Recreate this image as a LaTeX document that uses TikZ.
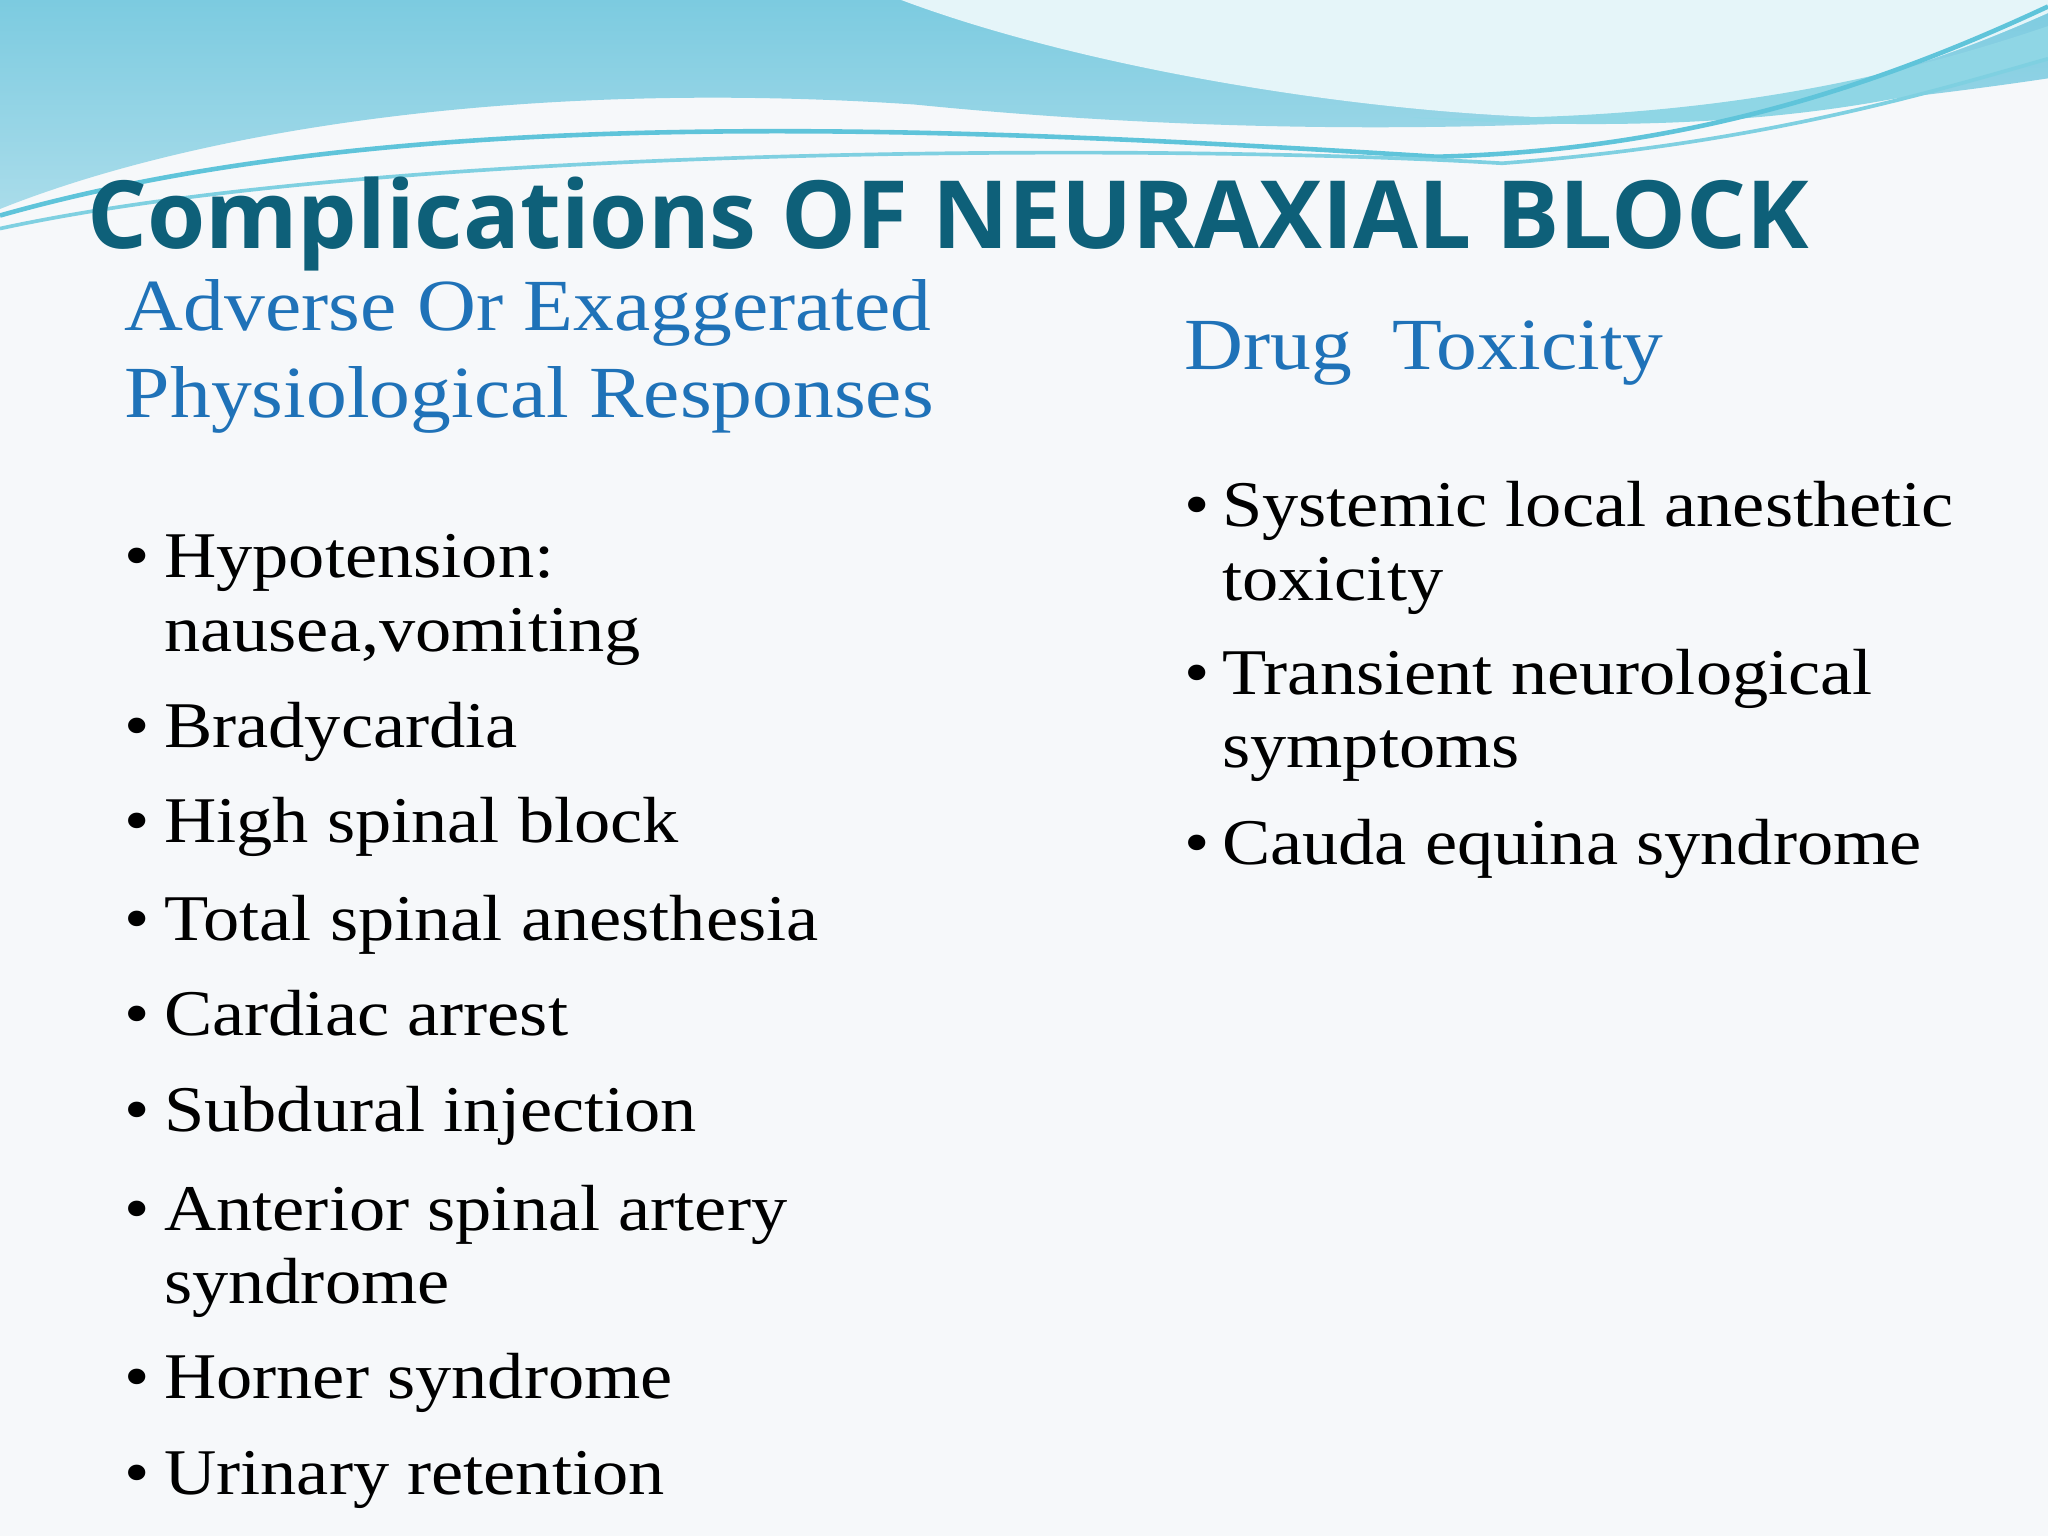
\documentclass[tikz,border=0pt]{standalone}
\usepackage{fontspec}
\setmainfont{Liberation Serif}[FakeStretch=1.11]
\newfontfamily\titlefont{Open Sans}
\definecolor{bg}{HTML}{F6F8FA}
\definecolor{ttl}{HTML}{0E6079}
\definecolor{sub}{HTML}{1F72B8}
\definecolor{wa}{HTML}{7CCBE0}
\definecolor{wb}{HTML}{A9DCEA}
\definecolor{wc}{HTML}{5FC4DA}
\tikzset{
 item/.style={anchor=base west,font=\fontsize{14.2}{17}\selectfont,inner sep=0},
 bul/.style={anchor=base west,font=\fontsize{14.2}{17}\selectfont,inner sep=0},
 subh/.style={anchor=base west,font=\fontsize{16}{19}\selectfont,text=sub,inner sep=0}
}
\begin{document}
\begin{tikzpicture}[x=0.01cm,y=-0.01cm]
\fill[bg] (0,0) rectangle (1568,1176);
\useasboundingbox (0,0) rectangle (1568,1176);
% waves
\shade[top color=wa,bottom color=wb] (0,0) -- (1568,0) -- (1568,60) .. controls (1300,100) and (1000,110) .. (700,80) .. controls (400,60) and (150,100) .. (0,160) -- cycle;
\fill[white!70!wb] (690,0) .. controls (850,60) and (1100,95) .. (1250,90) .. controls (1400,80) and (1500,40) .. (1568,10) -- (1568,0) -- cycle;
\fill[wc!70] (1080,90) .. controls (1300,95) and (1450,60) .. (1568,20) -- (1568,45) .. controls (1450,85) and (1300,105) .. (1080,90) -- cycle;
\draw[wc,line width=1pt] (0,165) .. controls (300,80) and (700,95) .. (1100,120) .. controls (1300,115) and (1450,60) .. (1568,5);
\draw[wc!80,line width=0.8pt] (0,175) .. controls (300,110) and (900,110) .. (1150,125) .. controls (1350,110) and (1480,70) .. (1568,45);
% title
\node[anchor=base west,inner sep=0,text=ttl,font=\titlefont\bfseries\fontsize{20.5}{24}\selectfont] (t) at (66,190) {Complications OF NEURAXIAL BLOCK};
% subheads
\node[subh] (s1) at (95,253) {Adverse Or Exaggerated};
\node[subh] (s2) at (95,320) {Physiological Responses};
\node[subh] (s3) at (906,283) {Drug\ \ Toxicity};
% left items
\foreach \y/\t [count=\i] in {442/Hypotension:,572/Bradycardia,645/High spinal block,720/Total spinal anesthesia,793/Cardiac arrest,866/Subdural injection,942/Anterior spinal artery,1071/Horner syndrome,1144/Urinary retention}{
 \node[bul] (lb\i) at (95,\y) {\textbullet};
 \node[item] (l\i) at (125,\y) {\t};
}
\node[item] (l1b) at (125,499) {nausea,vomiting};
\node[item] (l7b) at (125,998) {syndrome};
% right items
\foreach \y/\t [count=\i] in {403/Systemic local anesthetic,532/Transient neurological,662/Cauda equina syndrome}{
 \node[bul] (rb\i) at (906,\y) {\textbullet};
 \node[item] (r\i) at (935,\y) {\t};
}
\node[item] (r1b) at (935,460) {toxicity};
\node[item] (r2b) at (935,588) {symptoms};
\end{tikzpicture}
\end{document}
